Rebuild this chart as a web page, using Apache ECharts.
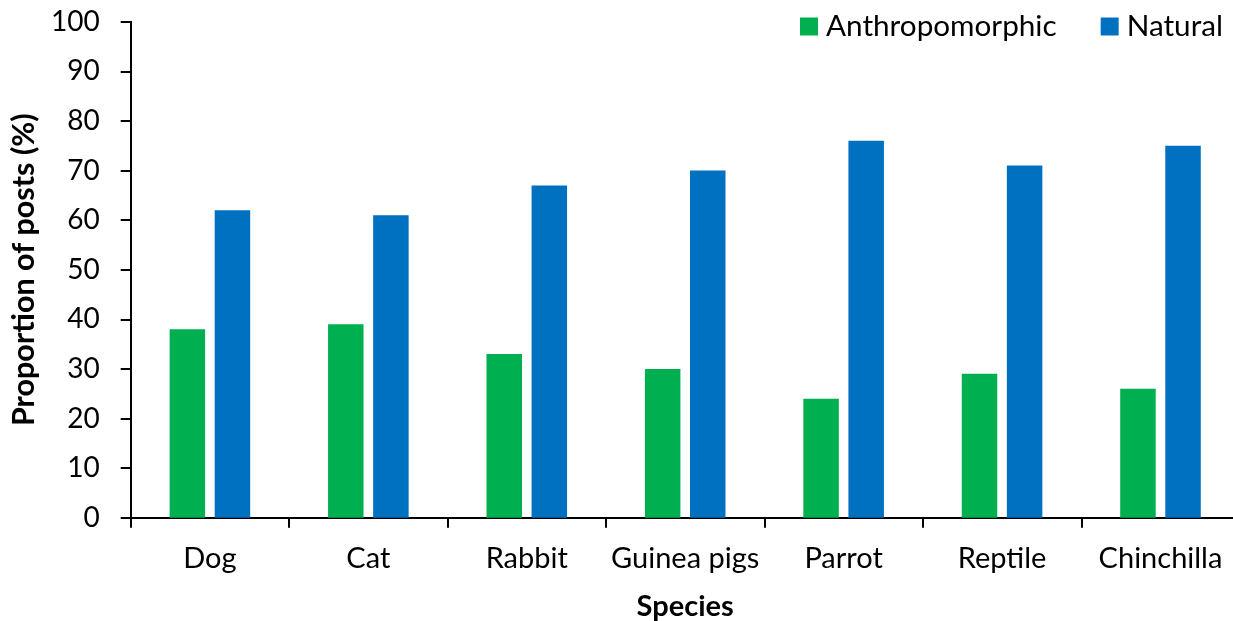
<!DOCTYPE html>
<html>
<head>
<meta charset="utf-8">
<script src="https://cdn.jsdelivr.net/npm/echarts@6/dist/echarts.min.js"></script>
<style>
html,body{margin:0;padding:0;background:#fff;}
#chart{width:1233px;height:621px;}
</style>
</head>
<body>
<div id="chart"></div>
<script>
const categories = ["Dog", "Cat", "Rabbit", "Guinea pigs", "Parrot", "Reptile", "Chinchilla"];
const anthropomorphic = [38, 39, 33, 30, 24, 29, 26];
const natural = [62, 61, 67, 70, 76, 71, 75];
const seriesNames = ["Anthropomorphic", "Natural"];
const yTicks = { min: 0, max: 100, interval: 10 };

const FONT = "Lato";
const chart = echarts.init(document.getElementById('chart'), null, { renderer: 'canvas' });
chart.setOption({
  animation: false,
  backgroundColor: '#ffffff',
  textStyle: { fontFamily: FONT, color: '#000' },
  grid: { left: 130.7, right: -6.7, top: 21.7, bottom: 103.3, containLabel: false, outerBoundsMode: 'none' },
  legend: {
    data: seriesNames,
    left: 800, top: 11.5, padding: 0, width: 433,
    itemWidth: 18, itemHeight: 18, itemGap: 44,
    icon: 'rect',
    textStyle: { fontFamily: FONT, fontSize: 29.7, color: '#000', padding: [0, 0, 0, 3] }
  },
  xAxis: {
    type: 'category',
    data: categories,
    name: 'Species',
    nameLocation: 'middle',
    nameGap: 74,
    nameTextStyle: { fontFamily: FONT, fontSize: 29, fontWeight: 'bold', color: '#000' },
    axisLine: { lineStyle: { color: '#000', width: 2 } },
    axisTick: { show: true, length: 10, lineStyle: { color: '#000', width: 2 }, alignWithLabel: false },
    axisLabel: { fontFamily: FONT, fontSize: 29, color: '#000', margin: 26, interval: 0 },
    splitLine: { show: false }
  },
  yAxis: {
    type: 'value',
    min: yTicks.min, max: yTicks.max, interval: yTicks.interval,
    name: 'Proportion of posts (%)',
    nameLocation: 'middle',
    nameGap: 81,
    nameTextStyle: { fontFamily: FONT, fontSize: 30.5, fontWeight: 'bold', color: '#000' },
    axisLine: { show: true, lineStyle: { color: '#000', width: 2 } },
    axisTick: { show: true, length: 10, lineStyle: { color: '#000', width: 2 } },
    axisLabel: { fontFamily: FONT, fontSize: 28, color: '#000', margin: 31 },
    splitLine: { show: false }
  },
  series: [
    {
      name: seriesNames[0], type: 'bar', data: anthropomorphic,
      barWidth: 35.5, barGap: '27%',
      itemStyle: { color: '#00B050' }
    },
    {
      name: seriesNames[1], type: 'bar', data: natural,
      barWidth: 35.5, barGap: '27%',
      itemStyle: { color: '#0070C0' }
    }
  ]
});
</script>
</body>
</html>
